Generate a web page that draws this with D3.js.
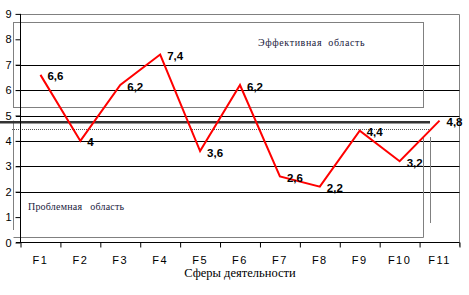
<!DOCTYPE html>
<html>
<head>
<meta charset="utf-8">
<script src="https://cdn.jsdelivr.net/npm/d3@7"></script>
<style>
  body { margin: 0; background: #fff; }
  svg { display: block; }
</style>
</head>
<body>
<script>
// Données du graphique
var categories = ["F1", "F2", "F3", "F4", "F5", "F6", "F7", "F8", "F9", "F10", "F11"];
var valeurs = [6.6, 4, 6.2, 7.4, 3.6, 6.2, 2.6, 2.2, 4.4, 3.2, 4.8];
var etiquettes = ["6,6", "4", "6,2", "7,4", "3,6", "6,2", "2,6", "2,2", "4,4", "3,2", "4,8"];
var yTicks = [0, 1, 2, 3, 4, 5, 6, 7, 8, 9];
var grille = [2, 3, 4, 5, 6, 7];
var seuil = 4.73;     // ligne épaisse
var moyenne = 4.47;   // ligne pointillée
var zoneEffective = [8.7, 5.37];
var zoneProbleme = [4.8, 0.2];
var titreX = "Сферы деятельности";
var texteEffectif = "Эффективная  область";
var texteProbleme = "Проблемная   область";

var width = 469, height = 295;
var xG = 20.5, xD = 459.5, yH = 13.9, yB = 242.5;

var svg = d3.select("body").append("svg")
    .attr("width", width)
    .attr("height", height);

var x = d3.scaleBand().domain(categories).range([xG, xD]);
var xb = d3.scaleLinear().domain([0, categories.length]).range([xG, xD]);
var y = d3.scaleLinear().domain([0, 9]).range([yB, yH]);

// bord haut et droit de la zone de tracé
svg.append("path")
    .attr("d", `M${xG},${Math.round(y(9)) + 0.5}H${xD}V${yB + 4}`)
    .attr("fill", "none").attr("stroke", "#808080");

// lignes de grille
svg.selectAll(".grid").data(grille).enter().append("line")
    .attr("x1", 16).attr("x2", xD)
    .attr("y1", d => Math.round(y(d)) + 0.5).attr("y2", d => Math.round(y(d)) + 0.5)
    .attr("stroke", "#000");

// zone effective
svg.append("rect")
    .attr("x", 13.5).attr("y", Math.round(y(zoneEffective[0])) + 0.5)
    .attr("width", 423.5 - 13.5)
    .attr("height", Math.round(y(zoneEffective[1]) - y(zoneEffective[0])))
    .attr("fill", "none").attr("stroke", "#808080");

// zone problème
svg.append("path")
    .attr("d", `M13.5,${y(zoneProbleme[0])}V230M13.5,${Math.round(y(zoneProbleme[1])) + 0.5}H423.5V138`)
    .attr("fill", "none").attr("stroke", "#808080");
svg.append("line")
    .attr("x1", 430.5).attr("x2", 430.5).attr("y1", 137).attr("y2", 223)
    .attr("stroke", "#808080");

// ligne de seuil et moyenne
svg.append("line")
    .attr("x1", 0).attr("x2", 430)
    .attr("y1", y(seuil)).attr("y2", y(seuil))
    .attr("stroke", "#333").attr("stroke-width", 2.5);
svg.append("line")
    .attr("x1", 12).attr("x2", 430)
    .attr("y1", Math.round(y(moyenne)) + 0.5).attr("y2", Math.round(y(moyenne)) + 0.5)
    .attr("stroke", "#555").attr("stroke-dasharray", "1,1");

svg.append("text")
    .attr("x", 258).attr("y", 46)
    .attr("font-family", "Liberation Serif, Times New Roman, serif")
    .attr("font-size", 10).attr("letter-spacing", 0.6)
    .attr("fill", "#1a1a40")
    .attr("xml:space", "preserve")
    .text(texteEffectif);
svg.append("text")
    .attr("x", 28).attr("y", 210)
    .attr("font-family", "Liberation Serif, Times New Roman, serif")
    .attr("font-size", 10).attr("letter-spacing", 0.2)
    .attr("fill", "#1a1a40")
    .attr("xml:space", "preserve")
    .text(texteProbleme);

// axe Y
var axeY = svg.append("g")
    .attr("transform", `translate(${xG},0)`)
    .call(d3.axisLeft(y).tickValues(yTicks).tickSize(5).tickPadding(4).tickFormat(d3.format("d")));
axeY.select(".domain").attr("d", `M0,${yH}V${yB}`).attr("stroke", "#000");
axeY.selectAll("text").attr("font-family", "Liberation Sans, Arial, sans-serif").attr("font-size", 11).attr("fill", "#000");

// axe X : graduations aux limites, libellés au centre
var axeX = svg.append("g")
    .attr("transform", `translate(0,${yB})`)
    .call(d3.axisBottom(xb).ticks(11).tickSize(5).tickFormat(""));
axeX.select(".domain").attr("d", `M16,0H${xD}`).attr("stroke", "#000");

var lib = svg.append("g")
    .attr("transform", `translate(0,${yB})`)
    .call(d3.axisBottom(x).tickSize(0).tickPadding(14));
lib.select(".domain").remove();
lib.selectAll("text").attr("font-family", "Liberation Sans, Arial, sans-serif")
    .attr("font-size", 11).attr("letter-spacing", 1.5).attr("fill", "#000");

svg.append("text")
    .attr("x", 240).attr("y", 277)
    .attr("text-anchor", "middle")
    .attr("font-family", "Liberation Serif, Times New Roman, serif")
    .attr("font-size", 12.5)
    .text(titreX);

// courbe
var ligne = d3.line()
    .x((d, i) => x(categories[i]) + x.bandwidth() / 2)
    .y(d => y(d));
svg.append("path")
    .datum(valeurs)
    .attr("d", ligne)
    .attr("fill", "none").attr("stroke", "#ff0000").attr("stroke-width", 2);

svg.selectAll(".lbl").data(valeurs).enter().append("text")
    .attr("x", (d, i) => x(categories[i]) + x.bandwidth() / 2 + 7)
    .attr("y", d => y(d) + 5.5)
    .attr("font-family", "Liberation Sans, Arial, sans-serif")
    .attr("font-size", 11.5).attr("font-weight", "bold")
    .text((d, i) => etiquettes[i]);
</script>
</body>
</html>
